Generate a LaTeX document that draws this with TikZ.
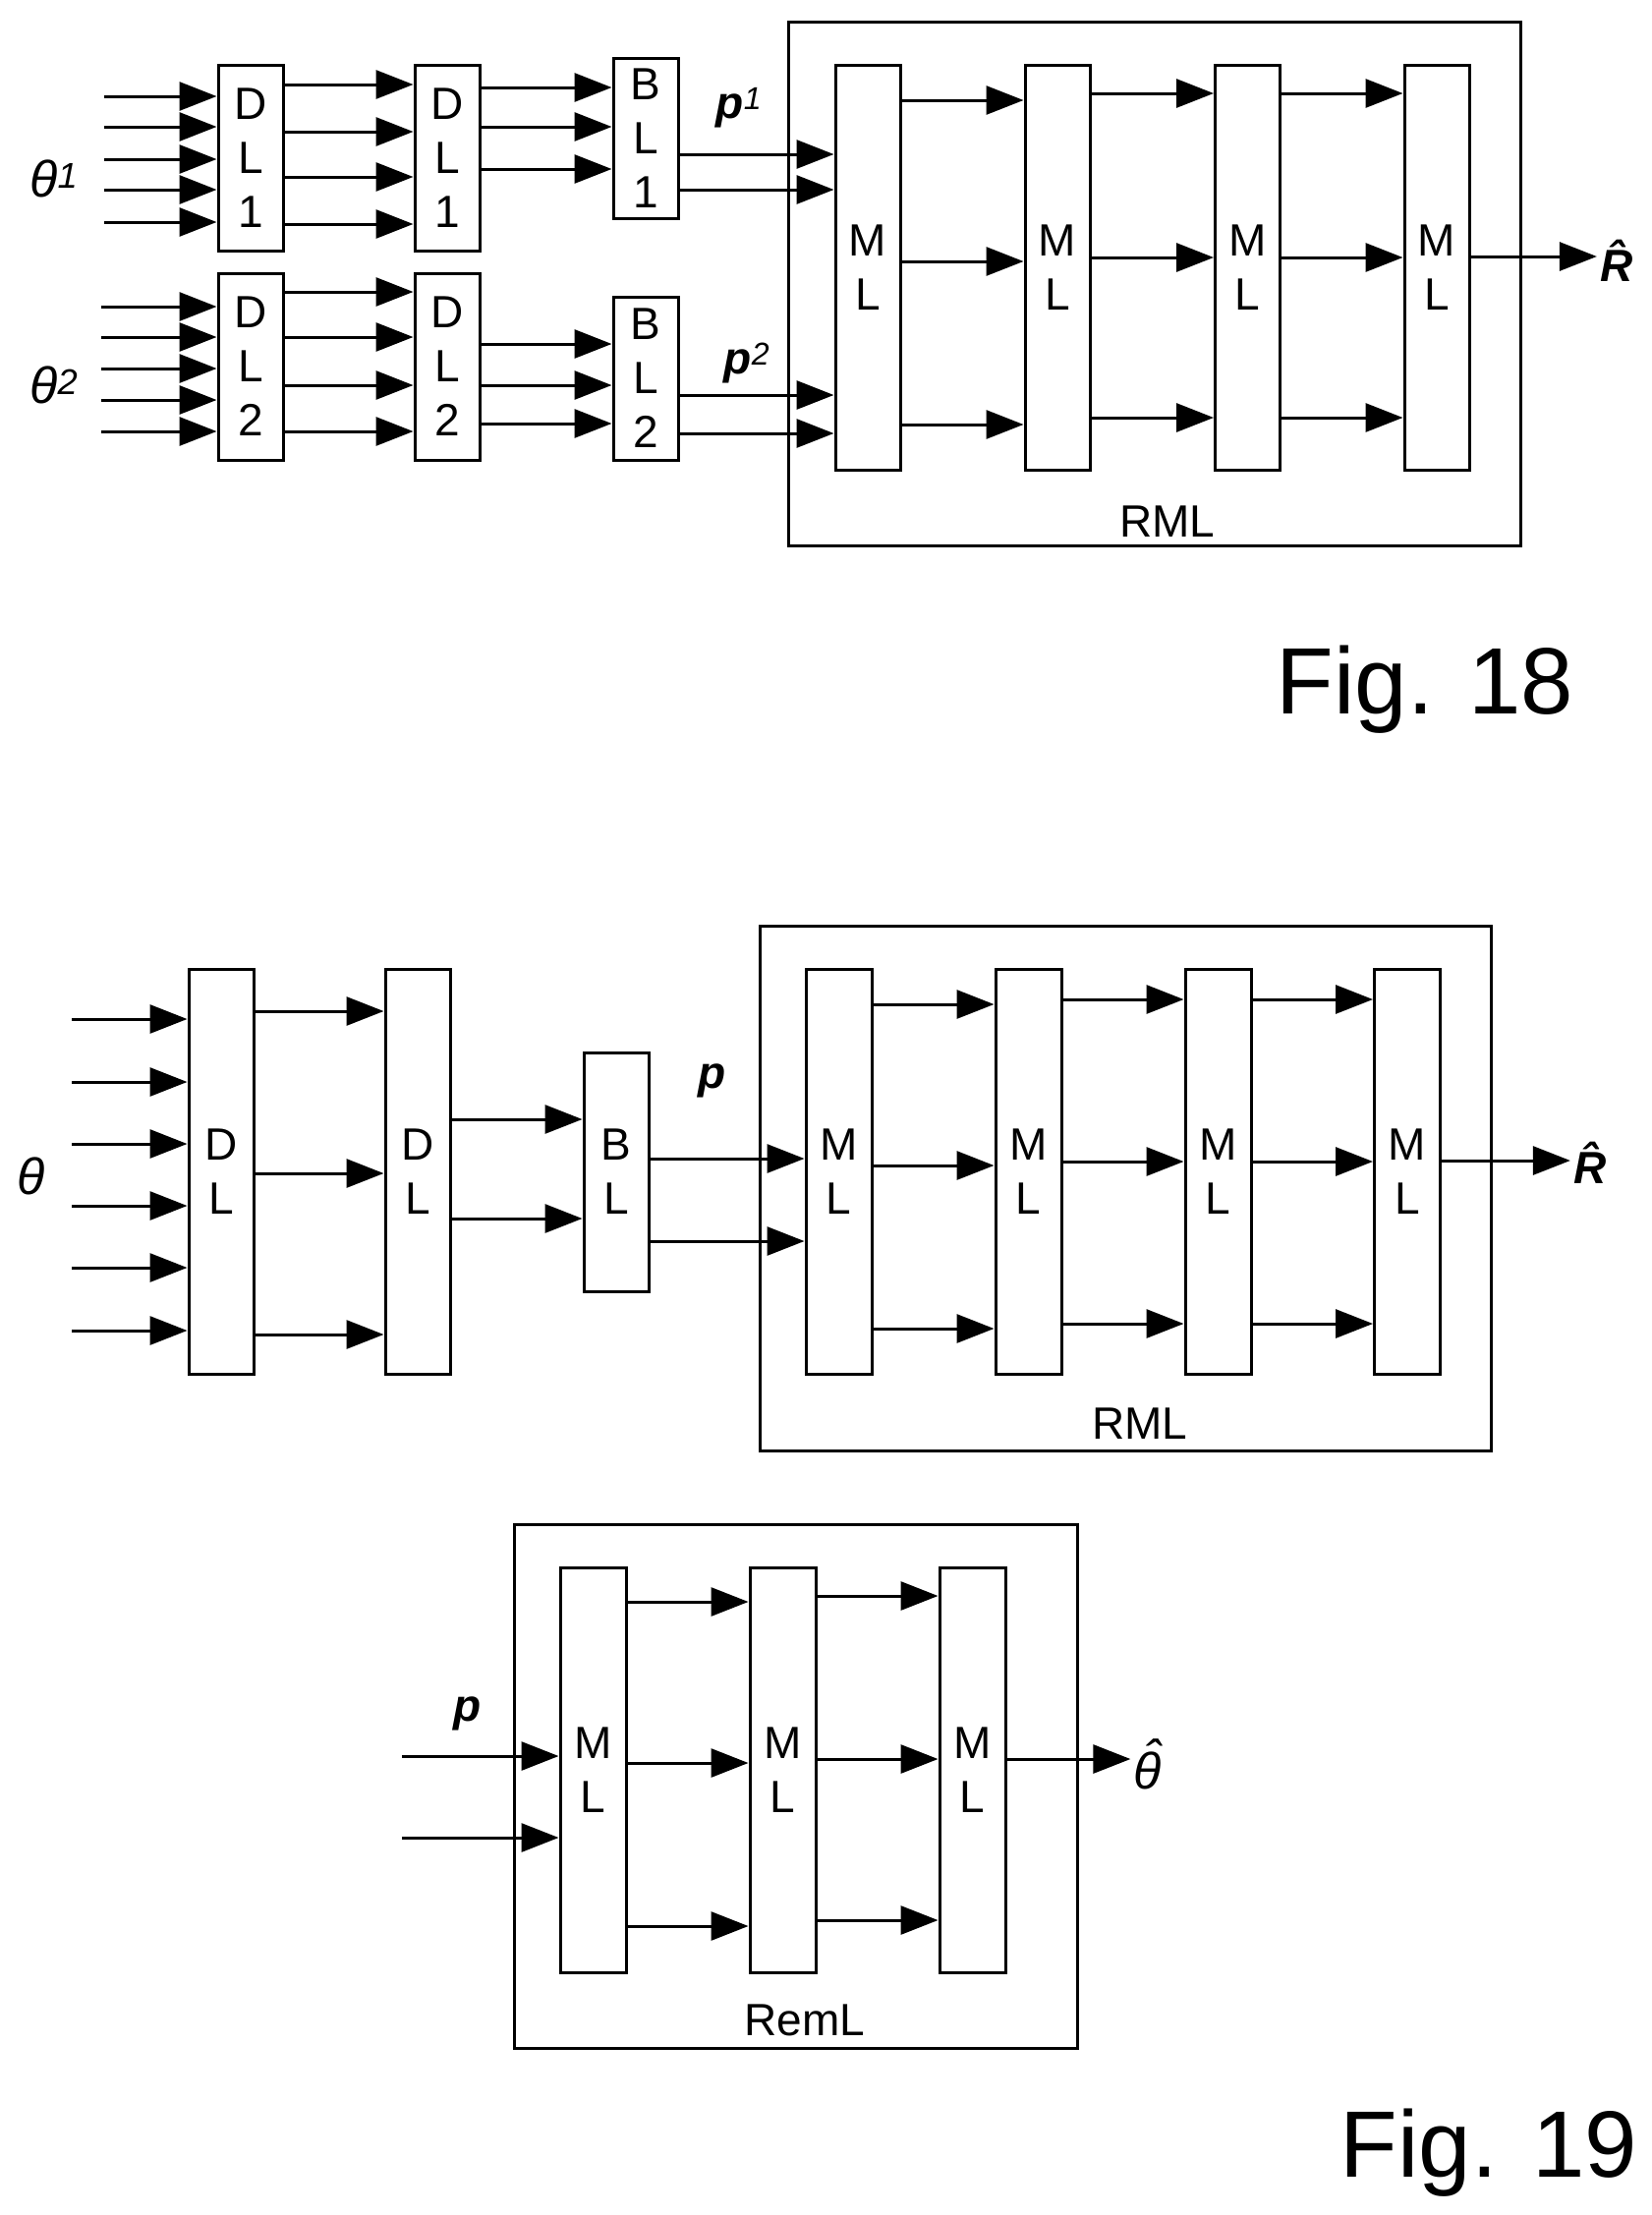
\documentclass[tikz,border=0pt]{standalone}
\usepackage{fontspec}
\setmainfont{Liberation Sans}
\usetikzlibrary{arrows.meta}
\begin{document}
\begin{tikzpicture}[x=1pt,y=-1pt,
 blk/.style={draw,line width=3pt,fill=white,inner sep=0pt,align=center,font=\fontsize{46}{55}\selectfont},
 frame/.style={draw,line width=3pt},
 arr/.style={line width=3pt,-{Triangle[length=38pt,width=29pt]}},
 lab/.style={font=\fontsize{46}{55}\selectfont},
 ilab/.style={font=\fontsize{52}{60}\selectfont\itshape},
 mlab/.style={font=\fontsize{46}{55}\selectfont\bfseries\itshape},
 figlab/.style={font=\fontsize{96}{110}\selectfont}]
\useasboundingbox (0,0) rectangle (1681,2254);
% ---------------- Fig. 18 ----------------
\node[frame,minimum width=745pt,minimum height=533pt] (rml1) at (1174.5,288.5) {};
\node[lab] (rml1t) at (1188,531) {RML};
\node[blk,minimum width=66pt,minimum height=189pt] (d11) at (255,160.5) {D\\L\\1};
\node[blk,minimum width=66pt,minimum height=189pt] (d12) at (455,160.5) {D\\L\\1};
\node[blk,minimum width=66pt,minimum height=163pt] (b1) at (657,140.5) {B\\L\\1};
\node[blk,minimum width=66pt,minimum height=190pt] (d21) at (255,373) {D\\L\\2};
\node[blk,minimum width=66pt,minimum height=190pt] (d22) at (455,373) {D\\L\\2};
\node[blk,minimum width=66pt,minimum height=166pt] (b2) at (657,385) {B\\L\\2};
\foreach \n/\x in {m1/883,m2/1076,m3/1269.5,m4/1462}
  \node[blk,minimum width=66pt,minimum height=412pt] (\n) at (\x,272) {M\\L};
\foreach \y in {98,129,162,193,226} \draw[arr] (106,\y) -- (d11.west |- 0,\y);
\foreach \y in {312,343,375,407,439} \draw[arr] (103,\y) -- (d21.west |- 0,\y);
\foreach \y in {86,134,180,228} \draw[arr] (d11.east |- 0,\y) -- (d12.west |- 0,\y);
\foreach \y in {297,343,392,439} \draw[arr] (d21.east |- 0,\y) -- (d22.west |- 0,\y);
\foreach \y in {89,129,172} \draw[arr] (d12.east |- 0,\y) -- (b1.west |- 0,\y);
\foreach \y in {350,392,431} \draw[arr] (d22.east |- 0,\y) -- (b2.west |- 0,\y);
\foreach \y in {157,193} \draw[arr] (b1.east |- 0,\y) -- (m1.west |- 0,\y);
\foreach \y in {402,441} \draw[arr] (b2.east |- 0,\y) -- (m1.west |- 0,\y);
\foreach \y in {102,266,432} \draw[arr] (m1.east |- 0,\y) -- (m2.west |- 0,\y);
\foreach \y in {95,262,425} \draw[arr] (m2.east |- 0,\y) -- (m3.west |- 0,\y);
\foreach \y in {95,262,425} \draw[arr] (m3.east |- 0,\y) -- (m4.west |- 0,\y);
\node[mlab] (rh1) at (1645,265) {\^{R}};
\draw[arr] (m4.east |- 0,261) -- (rh1.west |- 0,261);
\node[ilab] (th1) at (55,182) {θ\textsuperscript{1}};
\node[ilab] (th2) at (55,392) {θ\textsuperscript{2}};
\node[mlab] (p1) at (752,110) {p\textsuperscript{\mdseries 1}};
\node[mlab] (p2) at (760,370) {p\textsuperscript{\mdseries 2}};
\node[figlab] (f18) at (1450,702) {Fig. 18};
% ---------------- Fig. 19 ----------------
\node[frame,minimum width=744pt,minimum height=534pt] (rml2) at (1145,1209) {};
\node[lab] (rml2t) at (1160,1449) {RML};
\node[blk,minimum width=66pt,minimum height=412pt] (da) at (225,1192) {D\\L};
\node[blk,minimum width=66pt,minimum height=412pt] (db) at (425,1192) {D\\L};
\node[blk,minimum width=66pt,minimum height=243pt] (bl) at (627,1192.5) {B\\L};
\foreach \n/\x in {n1/853.5,n2/1046.5,n3/1239.5,n4/1432}
  \node[blk,minimum width=67pt,minimum height=412pt] (\n) at (\x,1192) {M\\L};
\foreach \y in {1037,1101,1164,1227,1290,1354} \draw[arr] (73,\y) -- (da.west |- 0,\y);
\node[ilab] (th) at (32,1197) {θ};
\foreach \y in {1029,1194,1358} \draw[arr] (da.east |- 0,\y) -- (db.west |- 0,\y);
\foreach \y in {1139,1240} \draw[arr] (db.east |- 0,\y) -- (bl.west |- 0,\y);
\foreach \y in {1179,1263} \draw[arr] (bl.east |- 0,\y) -- (n1.west |- 0,\y);
\node[mlab] (pp) at (725,1100) {p};
\foreach \y in {1022,1186,1352} \draw[arr] (n1.east |- 0,\y) -- (n2.west |- 0,\y);
\foreach \y in {1017,1182,1347} \draw[arr] (n2.east |- 0,\y) -- (n3.west |- 0,\y);
\foreach \y in {1017,1182,1347} \draw[arr] (n3.east |- 0,\y) -- (n4.west |- 0,\y);
\node[mlab] (rh2) at (1618,1183) {\^{R}};
\draw[arr] (n4.east |- 0,1181) -- (rh2.west |- 0,1181);
% RemL
\node[frame,minimum width=573pt,minimum height=533pt] (reml) at (809.5,1817.5) {};
\node[lab] (remlt) at (819,2056) {RemL};
\foreach \n/\x in {k1/603.5,k2/796.5,k3/989.5}
  \node[blk,minimum width=67pt,minimum height=412pt] (\n) at (\x,1801) {M\\L};
\foreach \y in {1787,1870} \draw[arr] (409,\y) -- (k1.west |- 0,\y);
\node[mlab] (pr) at (476,1744) {p};
\foreach \y in {1630,1794,1960} \draw[arr] (k1.east |- 0,\y) -- (k2.west |- 0,\y);
\foreach \y in {1624,1790,1954} \draw[arr] (k2.east |- 0,\y) -- (k3.west |- 0,\y);
\node[ilab] (thh) at (1168,1795) {\rlap{\hspace{0.2em}\raisebox{0.25em}{ˆ}}θ};
\draw[arr] (k3.east |- 0,1790) -- (thh.west |- 0,1790);
\node[figlab] (f19) at (1515,2191) {Fig. 19};
\end{tikzpicture}
\end{document}
